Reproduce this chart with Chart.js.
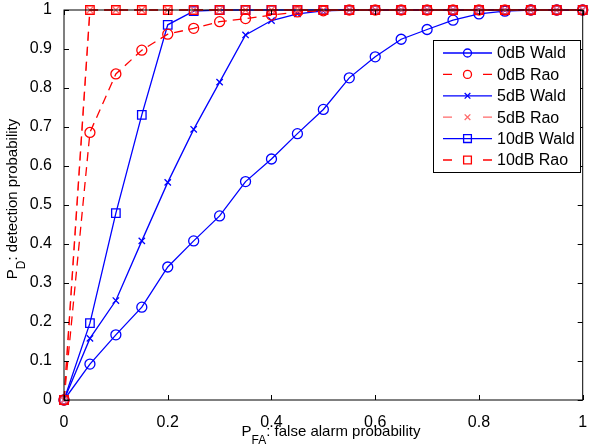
<!DOCTYPE html>
<html>
<head>
<meta charset="utf-8">
<script src="https://cdn.jsdelivr.net/npm/chart.js@4"></script>
<style>
  body { margin: 0; background: #fff; }
  #wrap { width: 590px; height: 447px; position: relative; }
</style>
</head>
<body>
<div id="wrap"><canvas id="myChart"></canvas></div>
<script>
// false alarm probability grid
const pfa = [0, 0.05, 0.1, 0.15, 0.2, 0.25, 0.3, 0.35, 0.4, 0.45, 0.5,
  0.55, 0.6, 0.65, 0.7, 0.75, 0.8, 0.85, 0.9, 0.95, 1];

const wald0 = [0, 0.092, 0.167, 0.238, 0.341, 0.408, 0.472, 0.56, 0.618, 0.683, 0.745,
  0.826, 0.88, 0.925, 0.95, 0.974, 0.99, 0.997, 1, 1, 1];
const rao0 = [0, 0.686, 0.836, 0.897, 0.938, 0.953, 0.97, 0.978, 0.987, 0.995, 0.998,
  1, 1, 1, 1, 1, 1, 1, 1, 1, 1];
const wald5 = [0, 0.158, 0.255, 0.408, 0.558, 0.694, 0.815, 0.936, 0.973, 0.99, 0.998,
  1, 1, 1, 1, 1, 1, 1, 1, 1, 1];
const rao5 = [0, 1, 1, 1, 1, 1, 1, 1, 1, 1, 1,
  1, 1, 1, 1, 1, 1, 1, 1, 1, 1];
const wald10 = [0, 0.197, 0.479, 0.731, 0.962, 0.997, 1, 1, 1, 1, 1,
  1, 1, 1, 1, 1, 1, 1, 1, 1, 1];
const rao10 = [0, 1, 1, 1, 1, 1, 1, 1, 1, 1, 1,
  1, 1, 1, 1, 1, 1, 1, 1, 1, 1];

const xTicks = [0, 0.2, 0.4, 0.6, 0.8, 1];
const xTickLabels = ['0', '0.2', '0.4', '0.6', '0.8', '1'];
const yTicks = [0, 0.1, 0.2, 0.3, 0.4, 0.5, 0.6, 0.7, 0.8, 0.9, 1];
const yTickLabels = ['0', '0.1', '0.2', '0.3', '0.4', '0.5', '0.6', '0.7', '0.8', '0.9', '1'];

const BLUE = '#0000ff';
const RED = '#ff0000';
const PINK = '#ff6a6a';
const FONT = '"Liberation Sans", Arial, Helvetica, sans-serif';

function series(label, values, color, marker, radius, dashed, order) {
  return {
    label: label,
    data: values.map((v, i) => ({ x: pfa[i], y: v })),
    borderColor: color,
    borderWidth: 1.3,
    borderDash: dashed ? [9, 6] : [],
    pointStyle: marker,
    pointRadius: radius,
    pointHoverRadius: radius,
    pointBorderColor: color,
    pointBackgroundColor: 'rgba(0,0,0,0)',
    pointBorderWidth: 1.3,
    tension: 0,
    fill: false,
    clip: false,
    order: order
  };
}

const datasets = [
  series('0dB Wald', wald0, BLUE, 'circle', 5, false, 5),
  series('0dB Rao', rao0, RED, 'circle', 5, true, 2),
  series('5dB Wald', wald5, BLUE, 'crossRot', 4.5, false, 4),
  series('5dB Rao', rao5, PINK, 'crossRot', 4.5, true, 1),
  series('10dB Wald', wald10, BLUE, 'rect', 6, false, 3),
  series('10dB Rao', rao10, RED, 'rect', 6, true, 0)
];

// draws a marker like the chart does, for the legend
function marker(ctx, style, x, y, r) {
  ctx.beginPath();
  if (style === 'circle') {
    ctx.arc(x, y, r, 0, Math.PI * 2);
  } else if (style === 'rect') {
    const s = Math.SQRT1_2 * r;
    ctx.rect(x - s, y - s, 2 * s, 2 * s);
  } else {
    const s = Math.SQRT1_2 * r;
    ctx.moveTo(x - s, y - s); ctx.lineTo(x + s, y + s);
    ctx.moveTo(x - s, y + s); ctx.lineTo(x + s, y - s);
  }
  ctx.stroke();
}

// text with a subscript part, centred on (0,0) of the current transform
function subLabel(ctx, main, sub, rest) {
  const big = '15px ' + FONT, small = '12px ' + FONT;
  ctx.font = big; const w1 = ctx.measureText(main).width;
  ctx.font = small; const w2 = ctx.measureText(sub).width;
  ctx.font = big; const w3 = ctx.measureText(rest).width;
  let x = -(w1 + w2 + w3) / 2;
  ctx.fillStyle = '#000';
  ctx.textBaseline = 'alphabetic';
  ctx.textAlign = 'left';
  ctx.font = big; ctx.fillText(main, x, 0); x += w1;
  ctx.font = small; ctx.fillText(sub, x, 8); x += w2;
  ctx.font = big; ctx.fillText(rest, x, 0);
}

const framePlugin = {
  id: 'frame',
  afterDraw(chart) {
    const ctx = chart.ctx;
    const a = chart.chartArea;
    const xs = chart.scales.x, ys = chart.scales.y;
    ctx.save();
    ctx.strokeStyle = '#000';
    ctx.lineWidth = 1;
    ctx.setLineDash([]);
    ctx.strokeRect(a.left, a.top, a.right - a.left, a.bottom - a.top);
    const tl = 5;
    ctx.beginPath();
    xTicks.forEach(v => {
      const px = Math.round(xs.getPixelForValue(v)) + 0.5;
      ctx.moveTo(px, a.bottom); ctx.lineTo(px, a.bottom - tl);
      ctx.moveTo(px, a.top); ctx.lineTo(px, a.top + tl);
    });
    yTicks.forEach(v => {
      const py = Math.round(ys.getPixelForValue(v)) + 0.5;
      ctx.moveTo(a.left, py); ctx.lineTo(a.left + tl, py);
      ctx.moveTo(a.right, py); ctx.lineTo(a.right - tl, py);
    });
    ctx.stroke();

    // legend box
    const lx = 433, ly = 40, lw = 147, lh = 132;
    ctx.fillStyle = '#fff';
    ctx.fillRect(lx, ly, lw, lh);
    ctx.strokeRect(lx + 0.5, ly + 0.5, lw, lh);
    chart.data.datasets.forEach((ds, row) => {
      const y = 53 + row * 21.4;
      ctx.strokeStyle = ds.borderColor;
      ctx.lineWidth = 1.3;
      ctx.setLineDash([]);
      ctx.beginPath();
      if (ds.borderDash.length) {
        ctx.moveTo(443, y); ctx.lineTo(452, y);
        ctx.moveTo(483, y); ctx.lineTo(492, y);
      } else {
        ctx.moveTo(443, y); ctx.lineTo(492, y);
      }
      ctx.stroke();
      marker(ctx, ds.pointStyle, 467.5, y, ds.pointStyle === 'rect' ? 5.5 : 4);
      ctx.fillStyle = '#000';
      ctx.font = '16px ' + FONT;
      ctx.textAlign = 'left';
      ctx.textBaseline = 'middle';
      ctx.fillText(ds.label, 497, y + 1);
    });

    // axis titles
    ctx.save();
    ctx.translate(331, 436);
    subLabel(ctx, 'P', 'FA', ': false alarm probability');
    ctx.restore();
    ctx.save();
    ctx.translate(17, 199);
    ctx.rotate(-Math.PI / 2);
    subLabel(ctx, 'P', 'D', ': detection probability');
    ctx.restore();
    ctx.restore();
  }
};

function noPad(s) {
  s.paddingLeft = 0; s.paddingRight = 0;
  s.paddingTop = 0; s.paddingBottom = 0;
}

function buildGraph() {
  const ctx = document.getElementById('myChart');
  new Chart(ctx, {
    type: 'line',
    data: { datasets: datasets },
    plugins: [framePlugin],
    options: {
      responsive: true,
      maintainAspectRatio: false,
      animation: false,
      layout: { padding: { top: 10, right: 4, left: 0, bottom: 0 } },
      plugins: {
        legend: { display: false },
        tooltip: { enabled: false }
      },
      scales: {
        x: {
          type: 'linear',
          min: 0,
          max: 1,
          grid: { display: false },
          border: { display: false },
          afterBuildTicks: s => { s.ticks = xTicks.map(v => ({ value: v })); },
          afterFit: s => { s.height = 47; noPad(s); },
          ticks: {
            color: '#000',
            padding: 5,
            maxRotation: 0,
            autoSkip: false,
            font: { family: FONT, size: 16 },
            callback: (v, i) => xTickLabels[i]
          }
        },
        y: {
          type: 'linear',
          min: 0,
          max: 1,
          grid: { display: false },
          border: { display: false },
          afterBuildTicks: s => { s.ticks = yTicks.map(v => ({ value: v })); },
          afterFit: s => { s.width = 64; noPad(s); },
          ticks: {
            color: '#000',
            padding: 4,
            autoSkip: false,
            font: { family: FONT, size: 16 },
            callback: (v, i) => yTickLabels[i]
          }
        }
      }
    }
  });
}

window.addEventListener('DOMContentLoaded', buildGraph);
</script>
</body>
</html>
